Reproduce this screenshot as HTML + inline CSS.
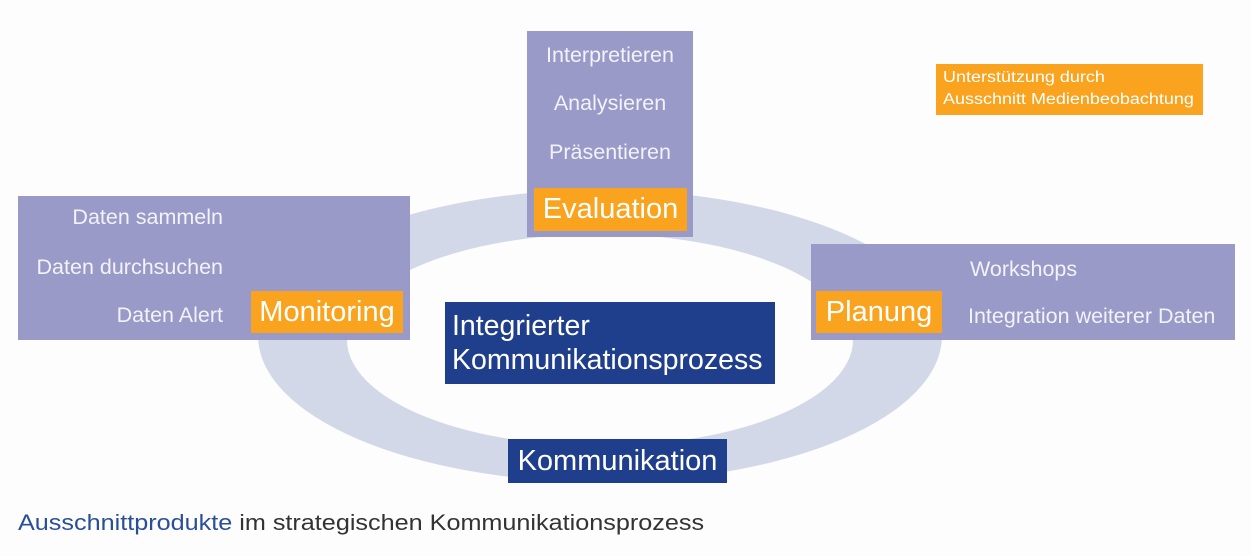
<!DOCTYPE html>
<html><head><meta charset="utf-8"><style>
body{margin:0;width:1251px;height:556px;background:#fcfdfc;position:relative;overflow:hidden;font-family:"Liberation Sans",sans-serif;}
.b{position:absolute;}
.p{background:#9a9ac8;}
.o{background:#f9a31e;color:#fff;}
.d{background:#1f3f8c;color:#fff;}
.t{position:absolute;color:#f2f2f8;font-size:21.5px;white-space:nowrap;}
</style></head><body>
<svg class="b" style="left:0;top:0" width="1251" height="556">
<ellipse cx="600" cy="336" rx="342" ry="146" fill="#d3d8e8"/>
<ellipse cx="600" cy="340" rx="253" ry="106" fill="#fcfdfc"/>
</svg>
<div class="b p" style="left:18px;top:196px;width:392px;height:144px"></div>
<div class="t" style="right:1028px;top:205px">Daten sammeln</div>
<div class="t" style="right:1028px;top:255px">Daten durchsuchen</div>
<div class="t" style="right:1028px;top:303px">Daten Alert</div>
<div class="b o" style="left:251px;top:291px;width:152px;height:42px;font-size:29px;line-height:42px;text-align:center;white-space:nowrap">Monitoring</div>

<div class="b p" style="left:527px;top:31px;width:166px;height:206px"></div>
<div class="t" style="left:527px;width:166px;text-align:center;top:43px">Interpretieren</div>
<div class="t" style="left:527px;width:166px;text-align:center;top:91px">Analysieren</div>
<div class="t" style="left:527px;width:166px;text-align:center;top:140px">Präsentieren</div>
<div class="b o" style="left:534px;top:188px;width:153px;height:43px;font-size:29px;line-height:43px;text-align:center">Evaluation</div>

<div class="b p" style="left:811px;top:244px;width:424px;height:96px"></div>
<div class="t" style="left:970px;top:257px">Workshops</div>
<div class="t" style="left:968px;top:304px">Integration weiterer Daten</div>
<div class="b o" style="left:816px;top:291px;width:126px;height:42px;font-size:29px;line-height:42px;text-align:center">Planung</div>

<div class="b d" style="left:445px;top:302px;width:330px;height:82px;font-size:28.5px;line-height:34px;padding:7px 0 0 7px;box-sizing:border-box;white-space:nowrap">Integrierter<br>Kommunikationsprozess</div>
<div class="b d" style="left:508px;top:439px;width:219px;height:44px;font-size:29px;line-height:44px;text-align:center">Kommunikation</div>

<div class="b o" style="left:936px;top:64px;width:267px;height:51px;"></div>
<div class="b" style="left:943px;top:67px;font-size:15.5px;line-height:22px;color:#fff;white-space:nowrap;transform:scaleX(1.16);transform-origin:left top">Unterstützung durch<br>Ausschnitt Medienbeobachtung</div>

<div class="b" style="left:18px;top:510px;font-size:22px;color:#333;white-space:nowrap;transform:scaleX(1.145);transform-origin:left top"><span style="color:#2a4e9a">Ausschnittprodukte</span> im strategischen Kommunikationsprozess</div>
</body></html>
